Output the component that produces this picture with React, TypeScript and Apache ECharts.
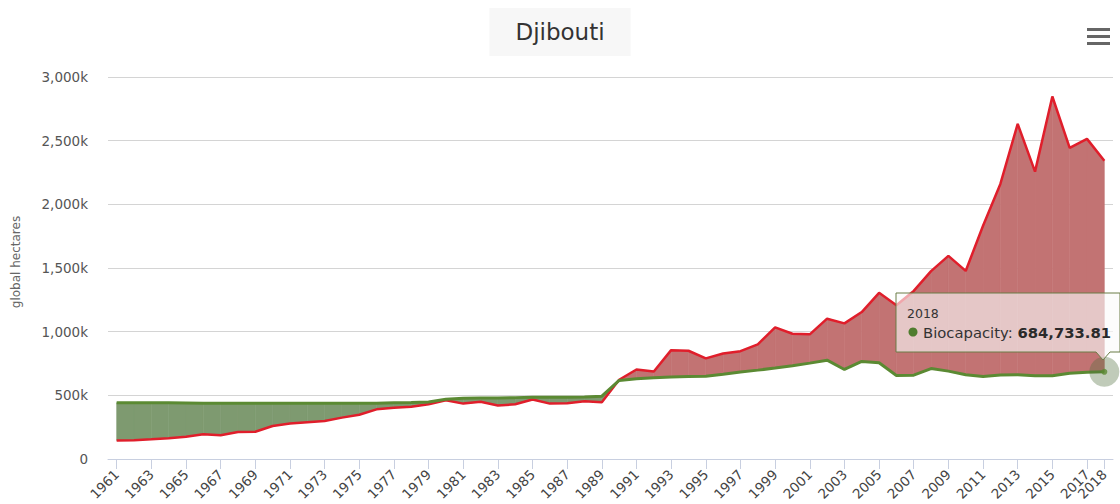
import React, { useEffect, useRef } from 'react';
import * as echarts from 'echarts';

const FONT = '"DejaVu Sans", "Noto Sans", sans-serif';

const YEARS: string[] = [];
for (let y = 1961; y <= 2018; y++) YEARS.push(String(y));

// Ecological footprint (global hectares)
const FOOTPRINT = [
  146000, 148000, 155000, 163000, 175000, 194000, 186000, 212000, 214000, 259000,
  278000, 288000, 298000, 325000, 348000, 390000, 403000, 411000, 430000,
  461000, 435000, 449000, 420000, 430000, 467000, 435000, 437000, 454000, 446000,
  622000, 703000, 687000, 855000, 850000, 790000, 829000, 847000, 900000, 1034000,
  984000, 979000, 1102000, 1065000, 1154000, 1305000, 1207000, 1320000, 1475000, 1595000,
  1477000, 1832000, 2160000, 2632000, 2257000, 2847000, 2443000, 2514000, 2343000,
];

// Biocapacity (global hectares)
const BIOCAPACITY = [
  442000, 442000, 441000, 441000, 440000, 438000, 437000, 437000, 437000, 437000,
  437000, 437000, 437000, 437000, 437000, 438000, 441000, 444000, 448000,
  470000, 477000, 480000, 480000, 482000, 485000, 485000, 485000, 486000, 493000,
  617000, 630000, 638000, 644000, 647000, 650000, 665000, 683000, 698000, 714000,
  732000, 753000, 776000, 703000, 766000, 756000, 656000, 658000, 710000, 690000,
  662000, 647000, 660000, 662000, 653000, 653000, 674000, 681000, 684733.81,
];

const RED_FILL = '#c27373';
const GREEN_FILL = '#7e9a70';
const RED_LINE = '#e01e2b';
const GREEN_LINE = '#5b8a33';

const SEGMENTS = FOOTPRINT.slice(0, -1).map((f, i) => [
  i, f, BIOCAPACITY[i], FOOTPRINT[i + 1], BIOCAPACITY[i + 1],
]);

const LAST = YEARS.length - 1;

export default function App() {
  const ref = useRef<HTMLDivElement>(null);

  useEffect(() => {
    const chart = echarts.init(ref.current as HTMLDivElement, null, { renderer: 'svg' });

    const oddYear = (i: number) => i % 2 === 0;
    const lastOnly = (i: number) => i === LAST;
    const lastVal = BIOCAPACITY[LAST].toLocaleString('en-US', {
      minimumFractionDigits: 2,
      maximumFractionDigits: 2,
    });

    const poly = (pts: number[][], fill: string) => ({
      type: 'polygon',
      shape: { points: pts },
      style: { fill, stroke: fill, lineWidth: 0.6 },
    });

    const labelStyle = {
      rotate: 45,
      margin: 13,
      hideOverlap: false,
      fontFamily: FONT,
      fontSize: 13.5,
      color: '#444',
    };

    const option: any = {
      animation: false,
      backgroundColor: '#ffffff',
      title: {
        text: 'Djibouti',
        left: 'center',
        top: 8,
        backgroundColor: '#f7f7f7',
        padding: [12, 26, 12, 26],
        textStyle: { fontFamily: FONT, fontSize: 23, fontWeight: 'normal', color: '#333', lineHeight: 24 },
      },
      grid: { left: 108, right: 7, top: 77, bottom: 45, outerBoundsMode: 'none', containLabel: false },
      xAxis: [
        {
          type: 'category',
          data: YEARS,
          boundaryGap: true,
          axisLine: { lineStyle: { color: '#c8cfe0', width: 1 } },
          axisTick: {
            show: true,
            alignWithLabel: true,
            interval: (i: number) => oddYear(i),
            length: 10,
            lineStyle: { color: '#c8cfe0' },
          },
          axisLabel: { ...labelStyle, interval: (i: number) => oddYear(i), showMinLabel: true, showMaxLabel: true },
          splitLine: { show: false },
        },
        {
          type: 'category',
          data: YEARS,
          position: 'bottom',
          boundaryGap: true,
          axisLine: { show: false },
          axisTick: {
            show: true,
            alignWithLabel: true,
            interval: (i: number) => lastOnly(i),
            length: 10,
            lineStyle: { color: '#c8cfe0' },
          },
          axisLabel: { ...labelStyle, interval: (i: number) => lastOnly(i), showMinLabel: false, showMaxLabel: true },
          splitLine: { show: false },
        },
      ],
      yAxis: {
        type: 'value',
        min: 0,
        max: 3000000,
        interval: 500000,
        name: 'global hectares',
        nameLocation: 'middle',
        nameGap: 86,
        nameRotate: 90,
        nameTextStyle: { fontFamily: FONT, fontSize: 12, color: '#666', padding: [0, 0, 0, 12] },
        axisLine: { show: false },
        axisTick: { show: false },
        axisLabel: {
          margin: 20,
          fontFamily: FONT,
          fontSize: 13.5,
          color: '#555',
          formatter: (v: number) => (v === 0 ? '0' : (v / 1000).toLocaleString('en-US') + 'k'),
        },
        splitLine: { lineStyle: { color: '#d4d4d4', width: 1 } },
      },
      series: [
        {
          type: 'custom',
          silent: true,
          z: 1,
          data: SEGMENTS,
          encode: { x: 0, y: [1, 2, 3, 4] },
          renderItem: (params: any, api: any) => {
            const i = params.dataIndex;
            const a0 = api.value(1), b0 = api.value(2), a1 = api.value(3), b1 = api.value(4);
            const A0 = api.coord([i, a0]);
            const B0 = api.coord([i, b0]);
            const A1 = api.coord([i + 1, a1]);
            const B1 = api.coord([i + 1, b1]);
            const d0 = a0 - b0;
            const d1 = a1 - b1;
            const children: any[] = [];
            if ((d0 >= 0 && d1 >= 0) || (d0 <= 0 && d1 <= 0)) {
              children.push(poly([A0, A1, B1, B0], d0 + d1 >= 0 ? RED_FILL : GREEN_FILL));
            } else {
              const t = d0 / (d0 - d1);
              const P = [A0[0] + t * (A1[0] - A0[0]), A0[1] + t * (A1[1] - A0[1])];
              children.push(poly([A0, P, B0], d0 > 0 ? RED_FILL : GREEN_FILL));
              children.push(poly([P, A1, B1], d1 > 0 ? RED_FILL : GREEN_FILL));
            }
            return { type: 'group', children };
          },
        },
        {
          name: 'Ecological Footprint',
          type: 'line',
          silent: true,
          z: 3,
          data: FOOTPRINT,
          symbol: 'none',
          lineStyle: { color: RED_LINE, width: 2.5 },
        },
        {
          name: 'Biocapacity',
          type: 'line',
          silent: true,
          z: 4,
          data: BIOCAPACITY,
          symbol: 'none',
          lineStyle: { color: GREEN_LINE, width: 3 },
        },
        {
          type: 'scatter',
          silent: true,
          z: 5,
          data: [[LAST, BIOCAPACITY[LAST]]],
          symbolSize: 30,
          itemStyle: { color: 'rgba(80,112,60,0.45)' },
        },
        {
          type: 'scatter',
          silent: true,
          z: 6,
          data: [[LAST, BIOCAPACITY[LAST]]],
          symbolSize: 6,
          itemStyle: { color: GREEN_LINE },
        },
      ],
      graphic: [
        {
          type: 'group',
          x: 1087,
          y: 28,
          z: 100,
          children: [0, 7, 14].map((dy) => ({
            type: 'rect',
            z: 100,
            shape: { x: 0, y: dy, width: 23, height: 3 },
            style: { fill: '#666' },
          })),
        },
        {
          type: 'polygon',
          x: 896,
          y: 293,
          z: 100,
          shape: { points: [[0, 0], [224, 0], [224, 59], [214, 59], [207, 67], [200, 59], [0, 59]] },
          style: { fill: 'rgba(250,250,250,0.62)', stroke: '#6b7d46', lineWidth: 1 },
        },
        {
          type: 'text',
          x: 907,
          y: 313,
          z: 101,
          style: { text: YEARS[LAST], fontFamily: FONT, fontSize: 12.5, fill: '#333', verticalAlign: 'middle' },
        },
        {
          type: 'circle',
          z: 101,
          shape: { cx: 913, cy: 332, r: 4.5 },
          style: { fill: '#4f7c2e' },
        },
        {
          type: 'text',
          x: 923,
          y: 332,
          z: 101,
          style: {
            text: '{a|Biocapacity: }{b|' + lastVal + '}',
            verticalAlign: 'middle',
            rich: {
              a: { fontFamily: FONT, fontSize: 14.8, fill: '#333', color: '#333' },
              b: { fontFamily: FONT, fontSize: 14.8, fontWeight: 'bold', fill: '#2a2a2a', color: '#2a2a2a' },
            },
          },
        },
      ],
    };

    chart.setOption(option);
    return () => chart.dispose();
  }, []);

  return (
    <div
      ref={ref}
      style={{ position: 'absolute', left: 0, top: 0, width: 1120, height: 504, overflow: 'hidden', background: '#fff' }}
    />
  );
}
